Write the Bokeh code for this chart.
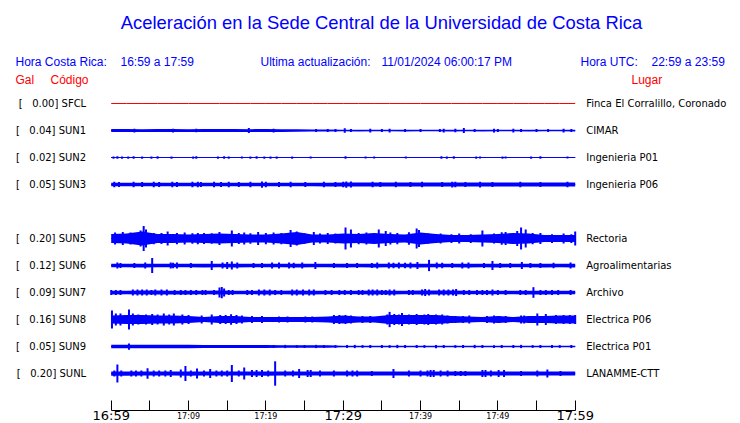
from bokeh.plotting import figure
from bokeh.models import Range1d, LinearAxis, FixedTicker, Label, ColumnDataSource
from bokeh.embed import file_html
from bokeh.resources import INLINE

# ---------------- texts ----------------
title_text = "Aceleración en la Sede Central de la Universidad de Costa Rica"
hora_cr_label = "Hora Costa Rica:"
hora_cr = "16:59 a 17:59"
update_label = "Ultima actualización:"
update_time = "11/01/2024 06:00:17 PM"
hora_utc_label = "Hora UTC:"
hora_utc = "22:59 a 23:59"

# ---------------- stations ----------------
stations = ["SFCL", "SUN1", "SUN2", "SUN3", "SUN4", "SUN5", "SUN6", "SUN7", "SUN8", "SUN9", "SUNL"]
places = ["Finca El Corralillo, Coronado", "CIMAR", "Ingenieria P01", "Ingenieria P06", "",
          "Rectoria", "Agroalimentarias", "Archivo", "Electrica P06", "Electrica P01", "LANAMME-CTT"]
peak_gal = [0.00, 0.04, 0.02, 0.05, None, 0.20, 0.12, 0.09, 0.16, 0.05, 0.20]

# time axis (minutes after 16:59)
tick_minutes = [0, 5, 10, 15, 20, 25, 30, 35, 40, 45, 50, 55, 60]
small_tick_minutes = [10, 20, 40, 50]
small_tick_labels = ["17:09", "17:19", "17:39", "17:49"]
big_tick_minutes = [0, 30, 60]
big_tick_labels = ["16:59", "17:29", "17:59"]

# envelope sample times (minutes)
env_minutes = [0, 2, 4, 6, 8, 10, 12, 14, 16, 18, 20, 22, 24, 26, 28, 30,
               32, 34, 36, 38, 40, 42, 44, 46, 48, 50, 52, 54, 56, 58, 60]

# background envelope (Gal, half amplitude) per station
sfcl_env = [0.0, 0.0, 0.0, 0.0, 0.0, 0.0, 0.0, 0.0, 0.0, 0.0, 0.0, 0.0, 0.0, 0.0, 0.0, 0.0,
            0.0, 0.0, 0.0, 0.0, 0.0, 0.0, 0.0, 0.0, 0.0, 0.0, 0.0, 0.0, 0.0, 0.0, 0.0]
sun1_env = [0.024, 0.024, 0.022, 0.024, 0.024, 0.022, 0.024, 0.024, 0.024, 0.022,
            0.024, 0.022, 0.020, 0.016, 0.016, 0.012, 0.014, 0.012, 0.012, 0.014,
            0.012, 0.012, 0.014, 0.012, 0.014, 0.012, 0.012, 0.014, 0.012, 0.012, 0.014]
sun2_env = [0.009, 0.009, 0.009, 0.009, 0.009, 0.009, 0.009, 0.009, 0.009, 0.009,
            0.009, 0.009, 0.009, 0.009, 0.009, 0.009, 0.009, 0.009, 0.009, 0.009,
            0.009, 0.009, 0.009, 0.009, 0.009, 0.009, 0.009, 0.009, 0.009, 0.009, 0.009]
sun3_env = [0.027, 0.028, 0.027, 0.027, 0.028, 0.027, 0.027, 0.028, 0.027, 0.027,
            0.028, 0.027, 0.027, 0.028, 0.030, 0.032, 0.032, 0.031, 0.032, 0.032,
            0.031, 0.032, 0.032, 0.031, 0.032, 0.032, 0.031, 0.032, 0.032, 0.031, 0.032]
sun5_env = [0.072, 0.080, 0.112, 0.072, 0.072, 0.064, 0.072, 0.080, 0.072, 0.064,
            0.064, 0.080, 0.104, 0.064, 0.064, 0.080, 0.072, 0.088, 0.072, 0.064,
            0.096, 0.072, 0.056, 0.056, 0.064, 0.072, 0.088, 0.080, 0.056, 0.056, 0.056]
sun6_env = [0.029, 0.029, 0.030, 0.029, 0.029, 0.029, 0.030, 0.029, 0.030, 0.029,
            0.029, 0.029, 0.030, 0.029, 0.029, 0.030, 0.029, 0.030, 0.029, 0.029,
            0.030, 0.029, 0.029, 0.030, 0.029, 0.030, 0.029, 0.029, 0.030, 0.029, 0.030]
sun7_env = [0.030, 0.029, 0.032, 0.032, 0.030, 0.030, 0.029, 0.031, 0.028, 0.028,
            0.031, 0.029, 0.031, 0.030, 0.028, 0.029, 0.029, 0.031, 0.030, 0.028,
            0.031, 0.031, 0.032, 0.029, 0.029, 0.029, 0.028, 0.030, 0.030, 0.029, 0.029]
sun8_env = [0.064, 0.072, 0.072, 0.064, 0.064, 0.056, 0.040, 0.056, 0.056, 0.040,
            0.040, 0.040, 0.040, 0.040, 0.048, 0.064, 0.048, 0.048, 0.072, 0.072,
            0.072, 0.072, 0.056, 0.048, 0.040, 0.056, 0.040, 0.056, 0.056, 0.064, 0.064]
sun9_env = [0.029, 0.029, 0.029, 0.029, 0.029, 0.029, 0.024, 0.024, 0.024, 0.024,
            0.024, 0.019, 0.019, 0.019, 0.019, 0.013, 0.013, 0.013, 0.013, 0.013,
            0.013, 0.013, 0.013, 0.013, 0.013, 0.013, 0.013, 0.013, 0.013, 0.013, 0.013]
sunl_env = [0.034, 0.034, 0.032, 0.033, 0.032, 0.034, 0.032, 0.032, 0.033, 0.032,
            0.034, 0.032, 0.032, 0.033, 0.032, 0.032, 0.031, 0.032, 0.032, 0.031,
            0.032, 0.032, 0.031, 0.032, 0.032, 0.031, 0.032, 0.032, 0.031, 0.032, 0.032]

# individual peaks: time (minutes) and half amplitude (Gal)
sun1_pk_t = [3.0, 8.0, 11.0, 17.8, 21.0, 26.5, 28.0, 29.0, 30.2, 31.0, 33.5, 35.0, 36.0, 38.0,
             40.0, 42.5, 43.0, 44.5, 45.6, 47.0, 49.5, 50.0, 52.0, 53.0, 55.0, 56.5, 58.5, 59.5]
sun1_pk_a = [0.030, 0.030, 0.028, 0.040, 0.030, 0.024, 0.024, 0.024, 0.035, 0.024, 0.030, 0.024, 0.030, 0.024,
             0.024, 0.024, 0.030, 0.028, 0.040, 0.024, 0.030, 0.024, 0.030, 0.024, 0.024, 0.024, 0.030, 0.024]
sun2_pk_t = [0.3, 0.8, 1.4, 2.2, 2.9, 4.0, 5.2, 6.0, 7.8, 10.6, 11.0, 13.8, 14.6, 15.2, 16.9, 18.0, 18.8, 19.8,
             20.6, 21.4, 23.4, 25.8, 30.3, 32.9, 34.0, 38.1, 42.7, 43.4, 44.3, 47.2, 47.7, 50.6, 51.0, 54.3, 55.5, 59.0]
sun2_pk_a = [0.018, 0.020, 0.018, 0.018, 0.020, 0.018, 0.018, 0.020, 0.018, 0.018, 0.020, 0.018, 0.020, 0.018,
             0.016, 0.018, 0.020, 0.018, 0.018, 0.018, 0.018, 0.016, 0.020, 0.016, 0.016, 0.016, 0.020, 0.018,
             0.020, 0.018, 0.016, 0.018, 0.016, 0.018, 0.020, 0.016]
sun3_pk_t = [0.4, 1.0, 2.9, 4.0, 5.5, 6.2, 7.9, 8.5, 10.5, 11.2, 11.6, 13.3, 14.2, 15.2, 16.5, 18.0, 19.5, 20.0,
             21.7, 23.2, 25.1, 27.5, 29.0, 30.0, 30.4, 31.0, 33.8, 34.8, 36.8, 38.7, 40.2, 42.8, 44.1, 44.5,
             45.8, 47.7, 49.3, 52.9, 55.5, 59.0]
sun3_pk_a = [0.044, 0.040, 0.044, 0.040, 0.044, 0.040, 0.044, 0.040, 0.044, 0.044, 0.040, 0.044, 0.040, 0.044,
             0.040, 0.044, 0.050, 0.044, 0.040, 0.044, 0.040, 0.044, 0.040, 0.044, 0.050, 0.048, 0.044, 0.040,
             0.044, 0.040, 0.044, 0.040, 0.046, 0.044, 0.040, 0.046, 0.040, 0.044, 0.040, 0.044]
sun5_pk_t = [0.5, 1.5, 2.5, 3.8, 4.2, 4.5, 5.5, 6.5, 7.3, 8.5, 9.5, 10.5, 11.2, 12.0, 13.0, 14.0, 15.6, 16.5,
             17.2, 18.0, 19.0, 20.0, 21.0, 22.0, 23.2, 24.0, 25.0, 26.2, 27.0, 28.0, 29.0, 30.3, 31.0, 32.0,
             33.0, 34.6, 35.5, 36.1, 37.0, 38.5, 39.5, 39.8, 41.0, 42.6, 44.0, 45.0, 46.5, 48.0, 49.5, 50.5,
             51.0, 52.5, 53.0, 53.6, 54.5, 55.5, 57.0, 58.5, 59.5, 60.0]
sun5_pk_a = [0.096, 0.104, 0.096, 0.128, 0.200, 0.144, 0.090, 0.088, 0.112, 0.090, 0.096, 0.085, 0.090, 0.088,
             0.085, 0.104, 0.128, 0.088, 0.096, 0.085, 0.104, 0.090, 0.096, 0.090, 0.136, 0.112, 0.085, 0.104,
             0.080, 0.088, 0.080, 0.176, 0.144, 0.090, 0.096, 0.144, 0.120, 0.096, 0.090, 0.100, 0.160, 0.136,
             0.080, 0.080, 0.070, 0.080, 0.070, 0.128, 0.080, 0.100, 0.104, 0.120, 0.176, 0.144, 0.090, 0.088,
             0.070, 0.080, 0.070, 0.112]
sun6_pk_t = [0.8, 1.2, 3.0, 4.4, 5.3, 7.7, 8.0, 8.5, 10.3, 13.0, 14.4, 15.0, 15.6, 16.3, 18.4, 19.5, 20.8, 21.7,
             23.0, 23.6, 24.7, 26.4, 28.8, 30.5, 31.8, 33.7, 34.4, 35.9, 36.5, 37.2, 38.0, 38.7, 39.6, 41.1,
             42.1, 42.8, 44.1, 45.4, 46.2, 48.2, 49.3, 50.3, 51.6, 53.1, 54.2, 55.5, 57.2, 59.4]
sun6_pk_a = [0.048, 0.040, 0.040, 0.048, 0.120, 0.048, 0.044, 0.048, 0.040, 0.072, 0.048, 0.056, 0.064, 0.048,
             0.040, 0.040, 0.048, 0.048, 0.048, 0.044, 0.048, 0.056, 0.040, 0.040, 0.040, 0.040, 0.048, 0.048,
             0.044, 0.048, 0.044, 0.048, 0.056, 0.090, 0.048, 0.044, 0.040, 0.048, 0.048, 0.040, 0.072, 0.040,
             0.040, 0.056, 0.040, 0.040, 0.044, 0.048]
sun7_pk_t = [0.0, 0.6, 1.2, 2.8, 3.4, 4.0, 4.6, 5.2, 5.7, 6.5, 7.2, 8.2, 9.0, 9.6, 10.3, 11.0, 11.8, 12.2, 13.3,
             14.0, 14.3, 14.6, 15.2, 15.7, 17.6, 18.2, 19.1, 19.8, 20.5, 21.2, 22.0, 23.4, 24.0, 24.8, 25.6,
             26.2, 27.7, 28.5, 29.5, 30.2, 31.0, 32.0, 32.5, 33.3, 33.8, 34.4, 35.0, 35.5, 36.0, 36.6, 38.5,
             39.0, 40.2, 40.6, 41.1, 42.4, 43.0, 43.6, 44.2, 44.6, 45.6, 46.3, 47.3, 48.0, 48.6, 49.3, 50.0,
             51.0, 52.9, 53.6, 54.6, 55.5, 56.2, 57.0, 57.8, 59.4]
sun7_pk_a = [0.040, 0.040, 0.040, 0.048, 0.048, 0.048, 0.048, 0.040, 0.048, 0.048, 0.048, 0.040, 0.040, 0.040,
             0.040, 0.040, 0.040, 0.040, 0.040, 0.080, 0.090, 0.064, 0.040, 0.040, 0.040, 0.040, 0.048, 0.048,
             0.048, 0.040, 0.040, 0.048, 0.048, 0.048, 0.048, 0.048, 0.040, 0.040, 0.040, 0.040, 0.040, 0.040,
             0.040, 0.048, 0.048, 0.048, 0.040, 0.040, 0.048, 0.048, 0.040, 0.040, 0.048, 0.056, 0.048, 0.048,
             0.048, 0.048, 0.048, 0.056, 0.040, 0.040, 0.040, 0.040, 0.040, 0.048, 0.040, 0.040, 0.040, 0.040,
             0.085, 0.040, 0.040, 0.040, 0.040, 0.040]
sun8_pk_t = [0.1, 0.6, 1.2, 2.3, 2.8, 3.5, 4.5, 5.3, 6.0, 6.8, 7.5, 8.1, 9.2, 10.0, 11.7, 13.0, 14.1, 14.8,
             15.5, 16.2, 16.9, 18.2, 19.5, 21.7, 22.8, 25.1, 26.0, 28.8, 29.5, 30.3, 31.0, 32.5, 33.5, 35.7,
             36.0, 36.6, 37.2, 37.6, 38.5, 39.5, 40.5, 41.0, 42.0, 42.8, 43.5, 44.5, 45.5, 46.3, 48.6, 49.5,
             50.2, 51.0, 53.0, 53.4, 55.1, 56.2, 57.5, 58.5, 59.3, 60.0]
sun8_pk_a = [0.144, 0.096, 0.096, 0.160, 0.096, 0.080, 0.080, 0.088, 0.080, 0.096, 0.080, 0.096, 0.080, 0.072,
             0.064, 0.080, 0.072, 0.072, 0.085, 0.072, 0.064, 0.056, 0.056, 0.048, 0.048, 0.048, 0.048, 0.072,
             0.072, 0.072, 0.064, 0.056, 0.056, 0.080, 0.122, 0.088, 0.080, 0.104, 0.080, 0.088, 0.080, 0.088,
             0.080, 0.080, 0.064, 0.056, 0.056, 0.064, 0.056, 0.064, 0.056, 0.056, 0.064, 0.064, 0.096, 0.088,
             0.072, 0.072, 0.072, 0.072]
sun9_pk_t = [2.3, 21.0, 22.5, 24.0, 25.0, 26.5, 27.5, 29.0, 30.5, 31.5, 32.5, 33.5, 35.0, 36.0, 37.0, 38.0,
             39.5, 40.5, 42.0, 43.0, 44.5, 45.5, 47.0, 48.0, 49.5, 50.5, 52.0, 53.0, 54.5, 55.5, 57.0, 58.0, 59.5]
sun9_pk_a = [0.050, 0.024, 0.026, 0.022, 0.024, 0.026, 0.024, 0.022, 0.024, 0.026, 0.022, 0.024, 0.024, 0.022,
             0.026, 0.024, 0.024, 0.022, 0.026, 0.024, 0.022, 0.024, 0.026, 0.024, 0.022, 0.024, 0.024, 0.026,
             0.022, 0.024, 0.024, 0.022, 0.024]
sunl_pk_t = [0.4, 0.8, 1.3, 2.6, 3.2, 3.9, 4.7, 5.5, 6.2, 7.0, 7.7, 9.0, 9.6, 10.3, 11.1, 12.0, 12.8, 13.6,
             14.3, 15.0, 15.6, 16.5, 17.2, 18.2, 18.8, 19.5, 20.3, 21.2, 22.5, 23.5, 24.3, 25.4, 25.8, 27.0,
             28.8, 30.5, 31.2, 31.8, 33.7, 36.5, 38.5, 40.0, 40.9, 41.3, 41.7, 42.6, 43.5, 44.5, 45.2, 45.8,
             48.0, 48.4, 49.1, 50.1, 50.8, 53.0, 55.1, 56.4, 58.1]
sunl_pk_a = [0.048, 0.144, 0.048, 0.048, 0.048, 0.048, 0.085, 0.048, 0.048, 0.048, 0.056, 0.064, 0.120, 0.048,
             0.080, 0.048, 0.072, 0.048, 0.048, 0.048, 0.136, 0.048, 0.096, 0.056, 0.056, 0.056, 0.048, 0.195,
             0.048, 0.048, 0.072, 0.056, 0.056, 0.048, 0.048, 0.048, 0.048, 0.048, 0.040, 0.072, 0.048, 0.048,
             0.048, 0.056, 0.056, 0.048, 0.048, 0.040, 0.040, 0.040, 0.056, 0.056, 0.048, 0.056, 0.056, 0.040,
             0.048, 0.064, 0.040]

traces = {
    "SFCL": (sfcl_env, [], []),
    "SUN1": (sun1_env, sun1_pk_t, sun1_pk_a),
    "SUN2": (sun2_env, sun2_pk_t, sun2_pk_a),
    "SUN3": (sun3_env, sun3_pk_t, sun3_pk_a),
    "SUN5": (sun5_env, sun5_pk_t, sun5_pk_a),
    "SUN6": (sun6_env, sun6_pk_t, sun6_pk_a),
    "SUN7": (sun7_env, sun7_pk_t, sun7_pk_a),
    "SUN8": (sun8_env, sun8_pk_t, sun8_pk_a),
    "SUN9": (sun9_env, sun9_pk_t, sun9_pk_a),
    "SUNL": (sunl_env, sunl_pk_t, sunl_pk_a),
}

# ---------------- layout / styling ----------------
BLUE = "#0000ff"
RED = "#ff0000"
GAL_PER_ROW = 0.432          # display gain: Gal per trace spacing
W, H = 740, 423
T0_PX, T60_PX = 110.7, 574.7  # pixel columns of 16:59 and 17:59
ROW_PX, ROW0_PX = 27.0, 103.0  # trace spacing and first trace row (pixels)
AXIS_PX = 409.7                # time axis line (pixels from top)

px_per_min = (T60_PX - T0_PX) / 60.0
x_start = -T0_PX / px_per_min
x_end = x_start + W / px_per_min
y_top = -ROW0_PX / ROW_PX
y_bot = y_top + H / ROW_PX
axis_y = (AXIS_PX - ROW0_PX) / ROW_PX

p = figure(width=W, height=H, output_backend="svg", toolbar_location=None, title=None,
           x_range=Range1d(x_start, x_end), y_range=Range1d(y_bot, y_top),
           min_border_left=0, min_border_right=0, min_border_top=0, min_border_bottom=0,
           x_axis_location=None, y_axis_location=None)
p.outline_line_color = None
p.grid.visible = False
p.background_fill_color = "white"
p.border_fill_color = "white"

row_of = {code: i for i, code in enumerate(stations)}

for code, (env, pk_t, pk_a) in traces.items():
    r = row_of[code]
    if code == "SFCL":
        p.line(env_minutes, [r + a / GAL_PER_ROW for a in env], line_color=RED, line_width=1)
        continue
    p.varea(x=env_minutes,
            y1=[r - a / GAL_PER_ROW for a in env],
            y2=[r + a / GAL_PER_ROW for a in env],
            fill_color=BLUE)
    p.line(env_minutes, [r for _ in env], line_color=BLUE, line_width=1.2)
    src = ColumnDataSource(dict(
        x=pk_t,
        y0=[r - a / GAL_PER_ROW for a in pk_a],
        y1=[r + a / GAL_PER_ROW for a in pk_a]))
    p.segment(x0="x", y0="y0", x1="x", y1="y1", source=src, line_color=BLUE, line_width=2)

# ---------------- axes ----------------
NB = "\u00a0"
used_rows = [row_of[c] for c in traces]
left_labels = {row_of[c]: "[" + NB * 3 + "%.2f] %s" % (peak_gal[row_of[c]], c) for c in traces}
right_labels = {row_of[c]: places[row_of[c]] for c in traces}


def station_axis(labels, loc, standoff):
    ax = LinearAxis(ticker=FixedTicker(ticks=used_rows, minor_ticks=[]),
                    major_label_overrides=labels, fixed_location=loc)
    ax.axis_line_color = None
    ax.major_tick_line_color = None
    ax.minor_tick_line_color = None
    ax.major_tick_out = 0
    ax.major_tick_in = 0
    ax.major_label_standoff = standoff
    ax.major_label_text_font = "DejaVu Sans"
    ax.major_label_text_font_size = "10px"
    ax.major_label_text_color = "black"
    return ax


p.add_layout(station_axis(left_labels, 0, 25), "left")
p.add_layout(station_axis(right_labels, 60, 11), "right")

# time axis: ticks every 5 minutes, small labels
xa = LinearAxis(ticker=FixedTicker(ticks=tick_minutes, minor_ticks=[]),
                fixed_location=axis_y, bounds=(0, 60))
xover = {m: "" for m in tick_minutes}
for m, lab in zip(small_tick_minutes, small_tick_labels):
    xover[m] = lab
xa.major_label_overrides = xover
xa.axis_line_color = "black"
xa.axis_line_width = 1
xa.major_tick_line_color = "black"
xa.major_tick_in = 10
xa.major_tick_out = 0
xa.minor_tick_line_color = None
xa.major_label_standoff = 2
xa.major_label_text_font = "DejaVu Sans"
xa.major_label_text_font_size = "8px"
xa.major_label_text_color = "black"
p.add_layout(xa, "below")

# time axis: large hour labels
xb = LinearAxis(ticker=FixedTicker(ticks=big_tick_minutes, minor_ticks=[]),
                fixed_location=axis_y, bounds=(0, 60),
                major_label_overrides=dict(zip(big_tick_minutes, big_tick_labels)))
xb.axis_line_color = None
xb.major_tick_line_color = None
xb.minor_tick_line_color = None
xb.major_tick_in = 0
xb.major_tick_out = 0
xb.major_label_standoff = -2
xb.major_label_text_font = "DejaVu Sans"
xb.major_label_text_font_size = "13px"
xb.major_label_text_color = "black"
p.add_layout(xb, "below")


# ---------------- header texts ----------------
def add_text(x_px, y_px, txt, color, size, align="left", font="Liberation Sans"):
    p.add_layout(Label(x=x_px, y=H - y_px, x_units="screen", y_units="screen",
                       text=txt, text_align=align, text_baseline="middle",
                       text_font=font, text_font_size=size, text_color=color))


add_text(381, 22, title_text, BLUE, "18.4px", align="center")
add_text(15, 61, hora_cr_label, BLUE, "12px")
add_text(120, 61, hora_cr, BLUE, "12px")
add_text(260, 61, update_label, BLUE, "12px")
add_text(381, 61, update_time, BLUE, "12px")
add_text(580, 61, hora_utc_label, BLUE, "12px")
add_text(651, 61, hora_utc, BLUE, "12px")
add_text(15, 79, "Gal", RED, "12px")
add_text(50, 79, "Código", RED, "12px")
add_text(631, 79, "Lugar", RED, "12px")

open("out.html", "w").write(file_html(p, INLINE))
